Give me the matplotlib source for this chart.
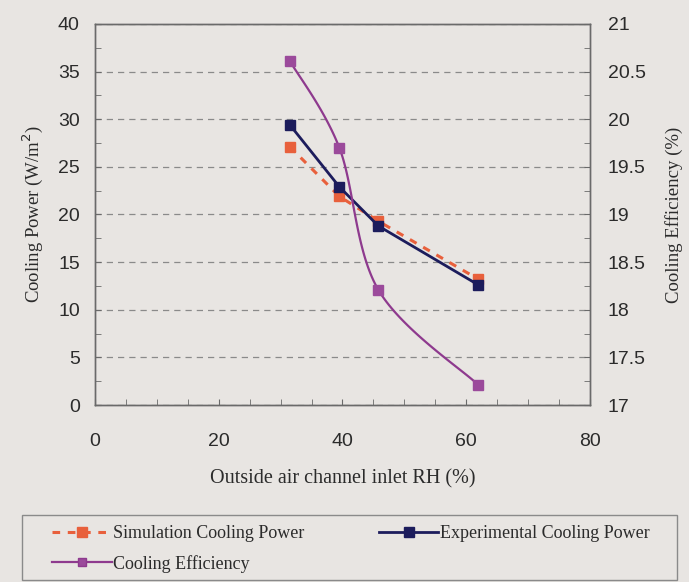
import numpy as np
import matplotlib.pyplot as plt
from matplotlib.patches import Rectangle
from matplotlib.ticker import MultipleLocator

# values
rh = [31.5, 39.5, 45.8, 62.0]
sim_power = [27.1, 21.9, 19.3, 13.2]
exp_power = [29.4, 22.9, 18.8, 12.6]
efficiency = [20.61, 19.70, 18.21, 17.21]

x_ticks = [0, 20, 40, 60, 80]
left_ticks = [0, 5, 10, 15, 20, 25, 30, 35, 40]
right_ticks = [17, 17.5, 18, 18.5, 19, 19.5, 20, 20.5, 21]

bg = '#e8e5e2'
txt = '#2b2b2b'
sans = 'Liberation Sans'
serif = 'Liberation Serif'


def smooth_line(x, y, n=40):
    # excel style "smoothed line" (catmull-rom through the points)
    p = np.column_stack([np.asarray(x) / 80.0, (np.asarray(y) - 17) / 4.0])
    p = np.vstack([p[0], p, p[-1]])
    t = np.linspace(0, 1, n)[:, None]
    out = []
    for i in range(1, len(p) - 2):
        p0, p1, p2, p3 = p[i - 1], p[i], p[i + 1], p[i + 2]
        seg = 0.5 * (2 * p1 + (p2 - p0) * t + (2 * p0 - 5 * p1 + 4 * p2 - p3) * t ** 2
                     + (3 * p1 - p0 - 3 * p2 + p3) * t ** 3)
        out.append(seg)
    out = np.vstack(out)
    return out[:, 0] * 80, out[:, 1] * 4 + 17


fig = plt.figure(figsize=(6.89, 5.82), dpi=100, facecolor=bg)
ax = fig.add_axes([0.138, 0.304, 0.718, 0.655], facecolor=bg)
ax2 = ax.twinx()

ax.set_xlim(0, 80)
ax.set_ylim(0, 40)
ax2.set_ylim(17, 21)
ax.set_xticks(x_ticks)
ax.set_yticks(left_ticks)
ax2.set_yticks(right_ticks)
ax2.set_yticklabels([('%g' % v) for v in right_ticks])
ax.xaxis.set_minor_locator(MultipleLocator(5))
ax.yaxis.set_minor_locator(MultipleLocator(2.5))
ax2.yaxis.set_minor_locator(MultipleLocator(0.25))

ax.grid(axis='y', color='#8a8a8a', linestyle=(0, (5, 4)), linewidth=0.9)
ax.set_axisbelow(True)

for a in (ax, ax2):
    for s in a.spines.values():
        s.set_color('#6a6a6a')
        s.set_linewidth(1.0)
    a.tick_params(which='both', direction='in', color='#6a6a6a', labelcolor=txt)
    a.tick_params(which='major', length=4)
    a.tick_params(which='minor', length=4)
ax.tick_params(axis='x', pad=20, labelsize=14)
ax.tick_params(axis='y', pad=11, labelsize=14)
ax2.tick_params(axis='y', pad=13, labelsize=14)
for lab in ax.get_xticklabels() + ax.get_yticklabels() + ax2.get_yticklabels():
    lab.set_fontfamily(sans)

sim, = ax.plot(rh, sim_power, color='#e8603c', linestyle=(0, (2.5, 2.5)), linewidth=2.2,
               marker='s', markersize=7, label='Simulation Cooling Power')
exp, = ax.plot(rh, exp_power, color='#1c1c5c', linewidth=2.0,
               marker='s', markersize=7, label='Experimental Cooling Power')
sx, sy = smooth_line(rh, efficiency)
ax2.plot(sx, sy, color='#8e3a8e', linewidth=1.6)
ax2.plot(rh, efficiency, color='#9b4a9b', linestyle='none', marker='s', markersize=7)
eff, = ax2.plot([], [], color='#8e3a8e', linewidth=1.6, marker='s', markersize=6,
                markerfacecolor='#9b4a9b', label='Cooling Efficiency')

ax.set_xlabel('Outside air channel inlet RH (%)', fontsize=14.5, family=serif,
              color=txt, labelpad=14)
ax.set_ylabel('Cooling Power (W/m$^2$)', fontsize=13.5, family=serif, color=txt,
              labelpad=9)
ax2.set_ylabel('Cooling Efficiency (%)', fontsize=13.5, family=serif, color=txt,
               labelpad=14)

# legend box below the plot
fig.patches.append(Rectangle((22 / 689, 1 - 580 / 582), 655 / 689, 65 / 582,
                             transform=fig.transFigure, facecolor=bg,
                             edgecolor='#8a8a8a', linewidth=1.0))
leg = fig.legend(handles=[sim, eff, exp], ncol=2, loc='upper left',
                 bbox_to_anchor=(52 / 689, 1 - 525 / 582),
                 prop={'family': serif, 'size': 13}, frameon=False,
                 handlelength=3.3, handletextpad=0.1, borderaxespad=0, borderpad=0,
                 labelspacing=0.7, columnspacing=4.1)
for t in leg.get_texts():
    t.set_color(txt)

fig.savefig('out.png', dpi=100, facecolor=bg)
